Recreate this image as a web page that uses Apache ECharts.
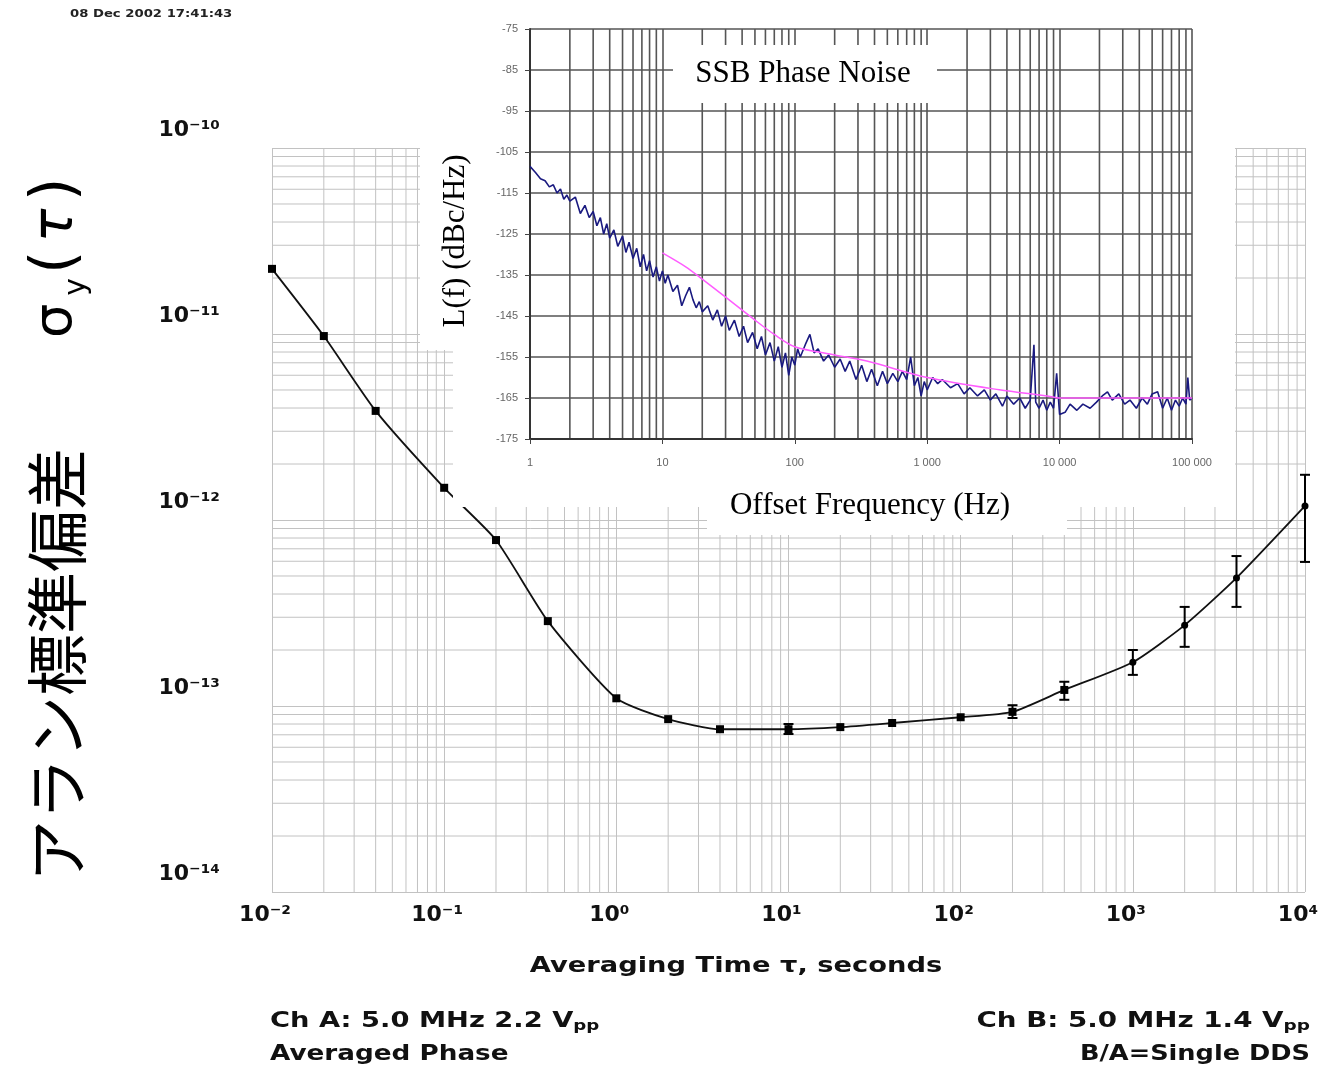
<!DOCTYPE html>
<html><head><meta charset="utf-8">
<script src="https://cdn.jsdelivr.net/npm/echarts@6/dist/echarts.min.js"></script>
<style>html,body{margin:0;padding:0;background:#fff}#c{width:1330px;height:1071px}</style>
</head><body><div id="c"></div>
<script>
// ---------- main Allan deviation data ----------
const tau = [0.01,0.02,0.04,0.1,0.2,0.4,1,2,4,10,20,40,100,200,400,1000,2000,4000,10000];
const adev = [2.24e-11,9.75e-12,3.86e-12,1.49e-12,7.8e-13,2.86e-13,1.10e-13,8.5e-14,7.5e-14,7.5e-14,7.7e-14,8.1e-14,8.7e-14,9.3e-14,1.22e-13,1.72e-13,2.72e-13,4.88e-13,1.19e-12];
const errTau  = [10,200,400,1000,2000,4000,10000];
const errLow  = [7.07e-14,8.62e-14,1.08e-13,1.47e-13,2.08e-13,3.41e-13,5.95e-13];
const errHigh = [8.0e-14,1.01e-13,1.35e-13,2.0e-13,3.41e-13,6.4e-13,1.75e-12];
const mainXLabels = ['10⁻²','10⁻¹','10⁰','10¹','10²','10³','10⁴'];
const mainYLabels = ['10⁻¹⁴','10⁻¹³','10⁻¹²','10⁻¹¹','10⁻¹⁰'];

// ---------- inset SSB phase noise data ----------
const ssbFreq = [1,1.1,1.2,1.3,1.4,1.5,1.6,1.7,1.8,1.9,2,2.2,2.4,2.6,2.8,3,3.2,3.4,3.6,3.8,4,4.3,4.6,5,5.3,5.6,6,6.4,6.8,7.2,7.6,8,8.5,9,9.5,10,
10.5,11,12,13,14,15,16,17,18,19,20,22,24,26,28,30,32,35,38,41,44,48,52,56,60,65,70,75,80,85,90,95,100,
105,110,120,130,140,150,165,180,200,220,240,260,290,320,350,380,420,460,500,550,600,650,700,750,800,850,900,950,1000,
1100,1200,1300,1500,1700,1900,2100,2400,2700,3000,3300,3700,4000,4500,5000,5500,6000,6400,6600,7000,7500,8000,8500,9000,9500,10000,
11000,12000,13500,15000,17000,19000,21000,23000,25000,28000,31000,34000,38000,42000,46000,50000,55000,60000,65000,70000,75000,80000,85000,90000,93000,96000,100000];
const ssbLevel = [-108.5,-110,-111.5,-112,-113.5,-113,-115,-114,-116.5,-115.5,-117,-116,-120,-118,-121,-119.5,-123,-121,-125,-122.5,-126,-124,-128,-125.5,-129.5,-127,-131,-128.5,-133,-130,-134,-131.5,-135.5,-133,-136.5,-134,
-137,-135,-139,-137.5,-142.5,-140,-138,-141,-143,-141.5,-144,-142.5,-146,-143.5,-147.5,-145,-148.5,-146,-150,-147.5,-151.5,-149,-153,-150,-154.5,-151.5,-156,-152.5,-157.5,-154,-159.5,-155,-157,
-153,-155,-152,-149.5,-154,-153,-156,-154.5,-157.5,-155.5,-158.5,-156,-160.5,-157,-161,-158,-162,-158.5,-161.5,-159,-161,-158.5,-160.5,-155,-162,-160,-164.5,-161,-163,
-160,-161.5,-160.5,-162.5,-161.5,-164,-162.5,-164.5,-163,-165.5,-164,-167,-164.5,-166.5,-165,-167.5,-165.5,-152,-166,-167.5,-165.5,-168,-166,-167.5,-159,-169,
-168.5,-166.5,-168,-166.5,-167.5,-166,-164.5,-163.5,-165.5,-164,-166.5,-165.5,-167.5,-165,-166.5,-164,-163.5,-167.5,-165,-168,-165.5,-167,-165,-166.5,-160,-165.5,-165];
const refFreq  = [10,15,20,30,50,70,100,200,350,1000,3500,8000,10000,100000];
const refLevel = [-129.6,-133,-136,-140.4,-146,-149.5,-152.5,-154.5,-156,-160,-163,-164.5,-165,-165];
const insetXLabels = ['1','10','100','1 000','10 000','100 000'];

// ---------- grid helpers (log minor lines at 2..9 of each decade) ----------
function minorLines(lo, hi){
  const out=[];
  for(let e=lo;e<hi;e++){ for(let m=2;m<=9;m++){ out.push(m*Math.pow(10,e)); } }
  return out;
}
const mainXMinor = minorLines(-2,4);
const mainYMinor = minorLines(-14,-10);
const insetXMinor = minorLines(0,5);

// custom series that draws full-height / full-width grid lines at axis values
function gridSeries(xi, yi, vals, dim, refOther, color, width, z){
  return {type:'custom', xAxisIndex:xi, yAxisIndex:yi, z:z, silent:true,
    data: vals.map(v=> dim==='x' ? [v, refOther] : [refOther, v]),
    encode:{x:0, y:1},
    renderItem:(params, api)=>{
      const cs = params.coordSys;
      const p = api.coord([api.value(0), api.value(1)]);
      const shape = dim==='x'
        ? {x1:p[0], y1:cs.y, x2:p[0], y2:cs.y+cs.height}
        : {x1:cs.x, y1:p[1], x2:cs.x+cs.width, y2:p[1]};
      return {type:'line', shape:shape, style:{stroke:color, lineWidth:width}};
    }};
}

const chart = echarts.init(document.getElementById('c'));
const mainGridColor = '#c2c2c2';
const insetGridColor = '#555';
const bold = 'DejaVu Sans';

chart.setOption({
  animation:false,
  backgroundColor:'#fff',
  grid:[
    {left:272, right:25, top:148, bottom:179},
    {left:530, right:138, top:29, bottom:632}
  ],
  xAxis:[
    {type:'log', logBase:10, min:0.01, max:10000, gridIndex:0, z:0,
     axisLine:{show:false}, axisTick:{show:false},
     splitLine:{show:true, lineStyle:{color:mainGridColor, width:1}},
     axisLabel:{margin:12, fontFamily:bold, fontWeight:'bold', fontSize:22, color:'#111', padding:[0,14,0,0],
       formatter:v=>mainXLabels[Math.round(Math.log10(v))+2]}},
    {type:'log', logBase:10, min:1, max:100000, gridIndex:1, z:6,
     axisLine:{show:true, lineStyle:{color:'#333', width:2}},
     axisTick:{show:true, length:5, lineStyle:{color:'#444'}},
     splitLine:{show:true, lineStyle:{color:insetGridColor, width:1.6}},
     axisLabel:{margin:18, fontFamily:'Liberation Sans', fontSize:11, color:'#666',
       formatter:v=>insetXLabels[Math.round(Math.log10(v))]}}
  ],
  yAxis:[
    {type:'log', logBase:10, min:1e-14, max:1e-10, gridIndex:0, z:0,
     axisLine:{show:false}, axisTick:{show:false},
     splitLine:{show:true, lineStyle:{color:mainGridColor, width:1}},
     axisLabel:{margin:52, fontFamily:bold, fontWeight:'bold', fontSize:22, color:'#111', lineHeight:36,
       formatter:v=>mainYLabels[Math.round(Math.log10(v))+14] + '\n '}},
    {type:'value', min:-175, max:-75, interval:10, gridIndex:1, z:6,
     axisLine:{show:true, lineStyle:{color:'#333', width:2}},
     axisTick:{show:true, length:5, lineStyle:{color:'#444'}},
     splitLine:{show:true, lineStyle:{color:insetGridColor, width:1.6}},
     axisLabel:{margin:12, fontFamily:'Liberation Sans', fontSize:11, color:'#666', formatter:v=>String(v)}}
  ],
  series:[
    gridSeries(0,0,mainXMinor,'x',1e-14,mainGridColor,1,1),
    gridSeries(0,0,mainYMinor,'y',0.01,mainGridColor,1,1),
    {type:'line', name:'adev', xAxisIndex:0, yAxisIndex:0, z:2,
     data:tau.map((t,i)=>[t,adev[i]]),
     smooth:0.2, lineStyle:{color:'#111', width:1.8},
     symbol:(v)=> v[0]>=1000 ? 'circle' : 'rect',
     symbolSize:(v)=> v[0]>=1000 ? 7 : 8,
     itemStyle:{color:'#000'}},
    {type:'custom', name:'err', xAxisIndex:0, yAxisIndex:0, z:3,
     data: errTau.map((t,i)=>[t,errLow[i],errHigh[i]]),
     encode:{x:0, y:[1,2]},
     renderItem:(params, api)=>{
       const x=api.value(0);
       const p1=api.coord([x, api.value(1)]), p2=api.coord([x, api.value(2)]);
       const w=5, st={stroke:'#000', lineWidth:2};
       return {type:'group', children:[
         {type:'line', shape:{x1:p1[0],y1:p1[1],x2:p2[0],y2:p2[1]}, style:st},
         {type:'line', shape:{x1:p1[0]-w,y1:p1[1],x2:p1[0]+w,y2:p1[1]}, style:st},
         {type:'line', shape:{x1:p2[0]-w,y1:p2[1],x2:p2[0]+w,y2:p2[1]}, style:st}
       ]};
     }},
    gridSeries(1,1,insetXMinor,'x',-175,insetGridColor,1.6,6),
    {type:'line', name:'ssb', xAxisIndex:1, yAxisIndex:1, z:7,
     data:ssbFreq.map((f,i)=>[f,ssbLevel[i]]),
     symbol:'none', lineStyle:{color:'#1a1a80', width:1.6}},
    {type:'line', name:'ref', xAxisIndex:1, yAxisIndex:1, z:8,
     data:refFreq.map((f,i)=>[f,refLevel[i]]),
     symbol:'none', smooth:0.3, lineStyle:{color:'#ff5cff', width:1.5}}
  ],
  graphic:{elements:[
    {type:'rect', z:5, silent:true, shape:{x:453, y:10, width:782, height:497}, style:{fill:'#fff'}},
    {type:'rect', z:5, silent:true, shape:{x:420, y:10, width:40, height:340}, style:{fill:'#fff'}},
    {type:'rect', z:5, silent:true, shape:{x:707, y:478, width:360, height:57}, style:{fill:'#fff'}},
    {type:'rect', z:9, silent:true, shape:{x:673, y:45, width:264, height:58}, style:{fill:'#fff'}},
    {type:'text', z:10, x:803, y:74, style:{text:'SSB Phase Noise', fontFamily:'Liberation Serif', fontSize:31, fill:'#000', align:'center', verticalAlign:'middle'}},
    {type:'text', z:10, x:456, y:241, rotation:Math.PI/2, style:{text:'L(f) (dBc/Hz)', fontFamily:'Liberation Serif', fontSize:31, fill:'#000', align:'center', verticalAlign:'middle'}},
    {type:'text', z:10, x:870, y:506, style:{text:'Offset Frequency (Hz)', fontFamily:'Liberation Serif', fontSize:31, fill:'#000', align:'center', verticalAlign:'middle'}},
    {type:'text', z:10, x:70, y:14, scaleX:1.2, style:{text:'08 Dec 2002 17:41:43', fontFamily:bold, fontWeight:'bold', fontSize:11, fill:'#222', align:'left', verticalAlign:'middle'}},
    {type:'text', z:10, x:736, y:967, scaleX:1.3, style:{text:'Averaging Time τ, seconds', fontFamily:bold, fontWeight:'bold', fontSize:21, fill:'#111', align:'center', verticalAlign:'middle'}},
    {type:'text', z:10, x:270, y:1022, scaleX:1.3, style:{text:'Ch A: 5.0 MHz 2.2 V{s|pp}', fontFamily:bold, fontWeight:'bold', fontSize:21, fill:'#111', align:'left', verticalAlign:'middle',
       rich:{s:{fontFamily:bold, fontWeight:'bold', fontSize:14, fill:'#111', verticalAlign:'bottom', padding:[8,0,0,0]}}}},
    {type:'text', z:10, x:270, y:1055, scaleX:1.25, style:{text:'Averaged Phase', fontFamily:bold, fontWeight:'bold', fontSize:21, fill:'#111', align:'left', verticalAlign:'middle'}},
    {type:'text', z:10, x:1310, y:1022, scaleX:1.32, style:{text:'Ch B: 5.0 MHz 1.4 V{s|pp}', fontFamily:bold, fontWeight:'bold', fontSize:21, fill:'#111', align:'right', verticalAlign:'middle',
       rich:{s:{fontFamily:bold, fontWeight:'bold', fontSize:14, fill:'#111', verticalAlign:'bottom', padding:[8,0,0,0]}}}},
    {type:'text', z:10, x:1310, y:1055, scaleX:1.22, style:{text:'B/A=Single DDS', fontFamily:bold, fontWeight:'bold', fontSize:21, fill:'#111', align:'right', verticalAlign:'middle'}},
    {type:'text', z:10, x:57, y:882, rotation:Math.PI/2, style:{
       text:'{jp|アラン標準偏差}{sg|σ}{sb|y}{pa|(}{ta|τ}{pa|)}', align:'left', verticalAlign:'middle', fill:'#000',
       rich:{
         jp:{fontFamily:'Noto Sans CJK JP', fontSize:62, fill:'#000', lineHeight:70},
         sg:{fontFamily:'DejaVu Sans', fontSize:54, fill:'#000', padding:[0,0,0,110], lineHeight:70},
         sb:{fontFamily:'DejaVu Sans', fontSize:30, fill:'#000', padding:[0,0,0,8], verticalAlign:'bottom', lineHeight:70},
         pa:{fontFamily:'DejaVu Sans', fontSize:60, fill:'#000', padding:[0,4,0,4], lineHeight:70},
         ta:{fontFamily:'DejaVu Sans', fontStyle:'italic', fontSize:56, fill:'#000', padding:[0,4,0,4], lineHeight:70}
       }}}
  ]}
});
</script>
</body></html>
